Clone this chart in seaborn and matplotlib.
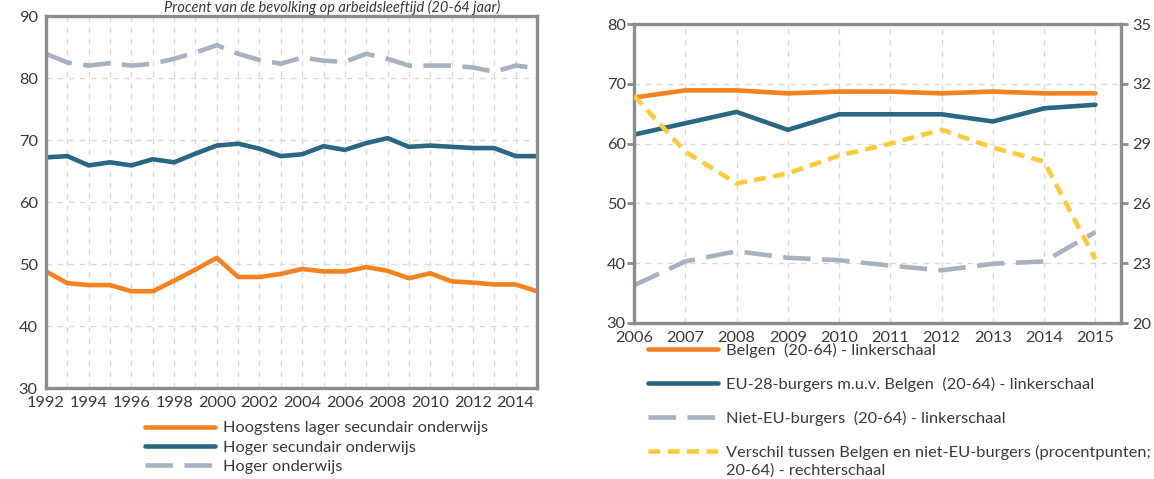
import numpy as np
import pandas as pd
import matplotlib
matplotlib.use("Agg")
import matplotlib.pyplot as plt
import seaborn as sns

# ---- data: links (opleidingsniveau) ----
years_left = list(range(1992, 2016))
laag = [48.8, 46.9, 46.6, 46.6, 45.6, 45.6, 47.3, 49.1, 51.0, 47.9, 47.9, 48.4,
        49.2, 48.8, 48.8, 49.5, 48.9, 47.7, 48.5, 47.2, 47.0, 46.7, 46.7, 45.6]
hoger_sec = [67.2, 67.4, 65.9, 66.4, 65.9, 66.9, 66.4, 67.8, 69.1, 69.4, 68.6, 67.4,
             67.7, 69.0, 68.4, 69.5, 70.3, 68.9, 69.1, 68.9, 68.7, 68.7, 67.4, 67.4]
hoger_ond = [83.9, 82.5, 82.0, 82.4, 82.0, 82.3, 83.1, 84.1, 85.3, 83.9, 82.9, 82.3,
             83.3, 82.8, 82.6, 83.9, 83.1, 82.0, 82.0, 82.0, 81.7, 81.0, 82.0, 81.6]

# ---- data: rechts (nationaliteit) ----
years_right = list(range(2006, 2016))
belgen = [67.7, 68.9, 68.9, 68.4, 68.7, 68.7, 68.4, 68.7, 68.4, 68.4]
eu28 = [61.5, 63.4, 65.3, 62.3, 64.9, 64.9, 64.9, 63.7, 65.9, 66.5]
niet_eu = [36.3, 40.3, 42.0, 40.9, 40.5, 39.6, 38.8, 39.9, 40.3, 45.2]
verschil = [31.4, 28.6, 27.0, 27.5, 28.4, 29.0, 29.7, 28.8, 28.1, 23.2]

title = "Procent van de bevolking op arbeidsleeftijd (20-64 jaar)"
labels_left = ["Hoogstens lager secundair onderwijs", "Hoger secundair onderwijs", "Hoger onderwijs"]
labels_right = ["Belgen  (20-64) - linkerschaal",
                "EU-28-burgers m.u.v. Belgen  (20-64) - linkerschaal",
                "Niet-EU-burgers  (20-64) - linkerschaal",
                "Verschil tussen Belgen en niet-EU-burgers (procentpunten;"]
label_right_extra = "20-64) - rechterschaal"

ORANGE = "#F58220"
TEAL = "#2A6782"
GREY = "#A7B1BF"
YELLOW = "#FFCA3A"
SPINE = "#8C8C8C"
TXT = "#3A3A3A"
FS = 11.8

sns.set_style("white")
plt.rcParams['font.family'] = ['Lato', 'DejaVu Sans']
plt.rcParams['font.size'] = FS

W, H = 1154, 479
fig = plt.figure(figsize=(W / 100, H / 100), dpi=100)

ax1 = fig.add_axes([46 / W, 1 - 388 / H, (537 - 46) / W, (388 - 16) / H])
ax2 = fig.add_axes([634 / W, 1 - 323 / H, (1121 - 634) / W, (323 - 24) / H])

LW = 3.3
long_dash = (0, (6, 2.5))
short_dash = (0, (2.6, 1.6))


def style_axes(ax):
    for s in ax.spines.values():
        s.set_color(SPINE)
        s.set_linewidth(2.4)
    ax.grid(True, color="#D9D9D9", linestyle=(0, (4, 4)), linewidth=1)
    ax.set_axisbelow(True)
    ax.tick_params(axis="both", colors=SPINE, labelcolor=TXT, labelsize=FS,
                   direction="out", length=5, width=2, pad=1)
    ax.set_xlabel("")
    ax.set_ylabel("")


# ---- left chart ----
sns.lineplot(x=years_left, y=laag, ax=ax1, color=ORANGE, lw=LW, label=labels_left[0])
sns.lineplot(x=years_left, y=hoger_sec, ax=ax1, color=TEAL, lw=LW, label=labels_left[1])
sns.lineplot(x=years_left, y=hoger_ond, ax=ax1, color=GREY, lw=LW, linestyle=long_dash,
             label=labels_left[2])
ax1.set_xlim(1992, 2015)
ax1.set_ylim(30, 90)
ax1.set_yticks(range(30, 91, 10))
ax1.set_xticks(years_left)
ax1.set_xticklabels([str(y) if y % 2 == 0 else "" for y in years_left])
style_axes(ax1)
ax1.legend(loc="upper left", bbox_to_anchor=(145 / W, 1 - 421 / H),
           bbox_transform=fig.transFigure, frameon=False, borderpad=0,
           borderaxespad=0, handlelength=4.3, handletextpad=0.45,
           labelspacing=0.28, fontsize=FS, labelcolor=TXT)

# ---- right chart ----
sns.lineplot(x=years_right, y=belgen, ax=ax2, color=ORANGE, lw=LW, label=labels_right[0])
sns.lineplot(x=years_right, y=eu28, ax=ax2, color=TEAL, lw=LW, label=labels_right[1])
sns.lineplot(x=years_right, y=niet_eu, ax=ax2, color=GREY, lw=LW, linestyle=long_dash,
             label=labels_right[2])
ax2.set_xlim(2006, 2015.5)
ax2.set_ylim(30, 80)
ax2.set_yticks(range(30, 81, 10))
ax2.set_xticks(years_right)
style_axes(ax2)

ax2r = ax2.twinx()
sns.lineplot(x=years_right, y=verschil, ax=ax2r, color=YELLOW, lw=LW, linestyle=short_dash,
             label=labels_right[3])
ax2r.set_ylim(20, 35)
ax2r.set_yticks(range(20, 36, 3))
ax2r.set_ylabel("")
for s in ax2r.spines.values():
    s.set_visible(False)
ax2r.tick_params(axis="y", colors=SPINE, labelcolor=TXT, labelsize=FS,
                 direction="out", length=5, width=2, pad=3)
ax2r.grid(False)

h1, l1 = ax2.get_legend_handles_labels()
h2, l2 = ax2r.get_legend_handles_labels()
ax2r.get_legend().remove()
ax2.get_legend().remove()
leg = fig.legend(h1 + h2, l1 + l2, loc="upper left", bbox_to_anchor=(648 / W, 1 - 343 / H),
                 frameon=False, borderpad=0, borderaxespad=0, handlelength=4.3,
                 handletextpad=0.45, labelspacing=1.15, fontsize=FS, labelcolor=TXT)

fig.canvas.draw()
bb = leg.get_texts()[-1].get_window_extent()
fig.text(bb.x0 / W, (bb.y0 - 18) / H, label_right_extra, fontsize=FS, color=TXT,
         ha="left", va="bottom")

fig.text(332 / W, 1 - 12 / H, title, style="italic", fontsize=10.5, color=TXT,
         ha="center", va="baseline")

fig.savefig("out.png", dpi=100)
